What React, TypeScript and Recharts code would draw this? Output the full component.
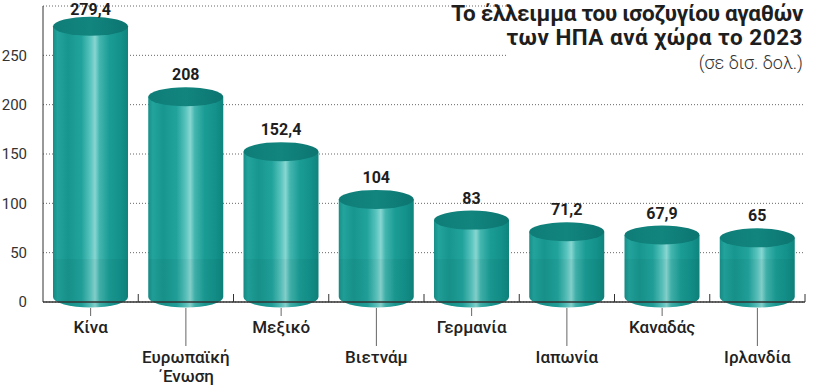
import React from 'react';
import { BarChart, Bar, XAxis, YAxis, CartesianGrid, LabelList } from 'recharts';

const countries = ['Κίνα', 'Ευρωπαϊκή Ένωση', 'Μεξικό', 'Βιετνάμ', 'Γερμανία', 'Ιαπωνία', 'Καναδάς', 'Ιρλανδία'];
const deficits = [279.4, 208, 152.4, 104, 83, 71.2, 67.9, 65];
const yTicks = [0, 50, 100, 150, 200, 250];
const titleLines = ['Το έλλειμμα του ισοζυγίου αγαθών', 'των ΗΠΑ ανά χώρα το 2023'];
const subtitle = '(σε δισ. δολ.)';

const data = countries.map((c, i) => ({ name: c, value: deficits[i] }));

const fmt = (v: number) => String(v).replace('.', ',');

const RY = 9.5;

const Cylinder = (props: any) => {
  const { x, y, width, height, index } = props;
  if (width == null || height == null) return null;
  const rx = width / 2;
  const cx = x + rx;
  const topY = y;
  const botY = y + height - 5;
  const gid = `cylGrad${index}`;
  const tid = `cylTop${index}`;
  const body = `M ${x} ${topY} L ${x} ${botY} A ${rx} ${RY + 1} 0 0 0 ${x + width} ${botY} L ${x + width} ${topY} Z`;
  const bandTop = Math.max(topY, botY - 38);
  const lower = `M ${x} ${bandTop} L ${x} ${botY} A ${rx} ${RY + 1} 0 0 0 ${x + width} ${botY} L ${x + width} ${bandTop} Z`;
  return (
    <g>
      <defs>
        <linearGradient id={gid} x1="0" y1="0" x2="1" y2="0">
          <stop offset="0%" stopColor="#178f89" />
          <stop offset="6%" stopColor="#22a39c" />
          <stop offset="20%" stopColor="#17968f" />
          <stop offset="38%" stopColor="#21a39c" />
          <stop offset="50%" stopColor="#5ac4be" />
          <stop offset="56%" stopColor="#88d6d1" />
          <stop offset="62%" stopColor="#43b6af" />
          <stop offset="75%" stopColor="#1a9c95" />
          <stop offset="90%" stopColor="#13918a" />
          <stop offset="100%" stopColor="#0f847e" />
        </linearGradient>
        <linearGradient id={tid} x1="0" y1="0" x2="1" y2="0">
          <stop offset="0%" stopColor="#0f7d77" />
          <stop offset="50%" stopColor="#12857f" />
          <stop offset="100%" stopColor="#0c7570" />
        </linearGradient>
      </defs>
      <path d={body} fill={`url(#${gid})`} />
      <path d={lower} fill="#000" fillOpacity={0.035} />
      <ellipse cx={cx} cy={topY} rx={rx} ry={RY} fill={`url(#${tid})`} />
    </g>
  );
};

const ValueLabel = (props: any) => {
  const { x, y, width, value } = props;
  const base = Math.max(y - RY - 7, 15);
  return (
    <text
      x={x + width / 2}
      y={base}
      textAnchor="middle"
      fontFamily="Roboto"
      fontWeight={700}
      fontSize={16}
      fill="#1e1e1e"
    >
      {fmt(value)}
    </text>
  );
};

const CountryTick = (props: any) => {
  const { x, y, payload, index } = props;
  const half = payload && payload.offset ? payload.offset : 47.6;
  const low = index % 2 === 1;
  const name: string = payload.value;
  const lines = name === 'Ευρωπαϊκή Ένωση' ? ['Ευρωπαϊκή', '΄Ενωση'] : [name];
  const lineEnd = low ? y + 44 : y + 14;
  const firstBase = low ? y + 61 : y + 31;
  return (
    <g>
      <line x1={x + half} y1={y} x2={x + half} y2={y - 8} stroke="#333" strokeWidth={1} />
      <line x1={x} y1={y + 6} x2={x} y2={lineEnd} stroke="#666" strokeWidth={1} />
      {lines.map((l, i) => (
        <text
          key={i}
          x={x}
          y={firstBase + i * 19}
          textAnchor="middle"
          fontFamily="Roboto"
          fontWeight={500}
          fontSize={17}
          fill="#222"
        >
          {l}
        </text>
      ))}
    </g>
  );
};

export default function App() {
  return (
    <div style={{ position: 'absolute', left: 0, top: 0, width: 814, height: 391, background: '#fff' }}>
      <BarChart
        width={814}
        height={391}
        data={data}
        margin={{ top: 6, right: 9, bottom: 0, left: 8 }}
        barSize={75}
      >
        <CartesianGrid
          vertical={false}
          horizontal
          stroke="#666"
          strokeDasharray="1 2"
        />
        <YAxis
          type="number"
          domain={[0, 300]}
          ticks={yTicks}
          width={35}
          axisLine={{ stroke: '#333', strokeWidth: 1 }}
          tickLine={false}
          tickMargin={10}
          tick={{ fontFamily: 'Roboto', fontSize: 15, fill: '#333', fontWeight: 400 }}
        />
        <XAxis
          dataKey="name"
          height={89}
          interval={0}
          tickLine={false}
          tickSize={0}
          tickMargin={0}
          axisLine={{ stroke: '#333', strokeWidth: 1.5 }}
          tick={<CountryTick />}
        />
        <Bar dataKey="value" shape={<Cylinder />} isAnimationActive={false}>
          <LabelList dataKey="value" content={<ValueLabel />} />
        </Bar>
      </BarChart>
      <div
        style={{
          position: 'absolute',
          left: 508,
          top: 0,
          width: 306,
          height: 72,
          background: '#fff',
        }}
      />
      <div
        style={{
          position: 'absolute',
          right: 11,
          top: 1,
          textAlign: 'right',
          fontFamily: 'Roboto',
          color: '#1e1e1e',
          whiteSpace: 'nowrap',
        }}
      >
        <div style={{ fontWeight: 700, fontSize: 22.5, lineHeight: '24px', letterSpacing: -0.3 }}>{titleLines[0]}</div>
        <div style={{ fontWeight: 700, fontSize: 22.5, lineHeight: '24px', letterSpacing: 0.5 }}>{titleLines[1]}</div>
        <div style={{ fontWeight: 300, fontSize: 18, lineHeight: '28px', color: '#333' }}>{subtitle}</div>
      </div>
    </div>
  );
}
